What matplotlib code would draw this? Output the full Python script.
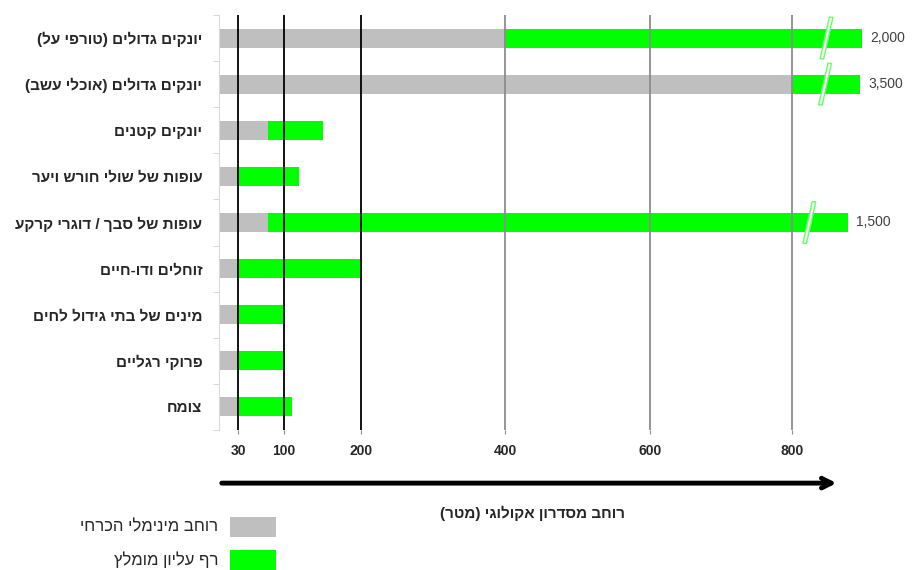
import numpy as np
import matplotlib.pyplot as plt
from matplotlib.patches import Rectangle, Polygon

plt.rcParams['font.family'] = ['Liberation Sans', 'DejaVu Sans']

#%%
categories = [
    "יונקים גדולים (טורפי על)",
    "יונקים גדולים (אוכלי עשב)",
    "יונקים קטנים",
    "עופות של שולי חורש ויער",
    "עופות של סבך / דוגרי קרקע",
    "זוחלים ודו-חיים",
    "מינים של בתי גידול לחים",
    "פרוקי רגליים",
    "צומח",
]
min_width = [400, 800, 75, 30, 75, 30, 30, 30, 30]
upper = [2000, 3500, 150, 120, 1500, 200, 100, 100, 110]
# where the broken bars are cut off on the drawing
shown_end = [898, 895, 150, 120, 878, 200, 100, 100, 110]
break_at = [848, 846, None, None, 824, None, None, None, None]
ticks = [30, 100, 200, 400, 600, 800]
dark_ticks = [30, 100, 200]
legend_labels = ["רוחב מינימלי הכרחי", "רף עליון מומלץ"]
xlabel = "רוחב מסדרון אקולוגי (מטר)"

GRAY = "#BFBFBF"
GREEN = "#00FF00"


def rtl(s):
    # matplotlib has no bidi, so flip hebrew to visual order
    return s[::-1].translate(str.maketrans("()", ")("))


# the original axis is not quite linear, follow its spacing
scale_vals = [0, 30, 100, 200, 400, 600, 800, 1000]
scale_px = [0, 19, 65, 142, 286, 431, 573, 716]


def fwd(v):
    return np.interp(v, scale_vals, scale_px, left=0, right=716)


def inv(p):
    return np.interp(p, scale_px, scale_vals)


#%%
fig = plt.figure(figsize=(9.15, 5.7), dpi=100)
ax = fig.add_axes([219 / 915, 1 - 430 / 570, 659 / 915, 415 / 570])
ax.set_xscale("function", functions=(fwd, inv))
ax.set_xlim(0, 920)
ax.set_ylim(len(categories) - 0.5, -0.5)

y = np.arange(len(categories))
h = 0.41
ax.barh(y, min_width, height=h, color=GRAY, zorder=2)
ax.barh(y, np.array(shown_end) - np.array(min_width), left=min_width,
        height=h, color=GREEN, zorder=2)

for t in ticks:
    ax.axvline(t, color="black" if t in dark_ticks else "#8C8C8C",
               lw=1.3, zorder=3)

# break marks and true values for the long bars
for i, xb in enumerate(break_at):
    if xb is None:
        continue
    pts = [(xb - 9, y[i] + 0.45), (xb - 4, y[i] + 0.45),
           (xb + 9, y[i] - 0.45), (xb + 4, y[i] - 0.45)]
    ax.add_patch(Polygon(pts, closed=True, facecolor="white",
                         edgecolor="#66FF66", lw=1, zorder=4, clip_on=False))
    ax.annotate(f"{upper[i]:,}", (shown_end[i], y[i]), xytext=(6, 0),
                textcoords="offset points", va="center", ha="left",
                fontsize=10, color="#404040", annotation_clip=False)

ax.set_yticks(y)
ax.set_yticklabels([rtl(c) for c in categories], fontsize=11,
                   fontweight="bold", color="#262626")
ax.tick_params(axis="y", which="major", length=0, pad=12)
ax.set_yticks(np.arange(len(categories) + 1) - 0.5, minor=True)
ax.tick_params(axis="y", which="minor", length=4, color="#D0D0D0")

ax.set_xticks(ticks)
ax.set_xticklabels([str(t) for t in ticks], fontsize=10, fontweight="bold",
                   color="#262626")
ax.xaxis.set_minor_locator(plt.NullLocator())
ax.tick_params(axis="x", length=3, color="#8C8C8C", pad=7)

for side in ["top", "right", "bottom"]:
    ax.spines[side].set_visible(False)
ax.spines["left"].set_color("#D9D9D9")

# arrow under the axis
ax.annotate("", xy=(866, -0.128), xytext=(0, -0.128),
            xycoords=ax.get_xaxis_transform(),
            arrowprops=dict(arrowstyle="->,head_length=0.7,head_width=0.35",
                            lw=3.5, color="black"),
            annotation_clip=False)
fig.text(532 / 915, 1 - 513 / 570, rtl(xlabel), ha="center", va="center",
         fontsize=11, fontweight="bold", color="#262626")

# legend
for k, (lab, col) in enumerate(zip(legend_labels, [GRAY, GREEN])):
    yc = 527 + k * 33
    fig.patches.append(Rectangle((230 / 915, 1 - (yc + 10) / 570), 46 / 915,
                                 20 / 570, transform=fig.transFigure,
                                 facecolor=col, edgecolor="none"))
    fig.text(218 / 915, 1 - yc / 570, rtl(lab), ha="right", va="center",
             fontsize=12, color="#262626")

fig.savefig("out.png", dpi=100)
